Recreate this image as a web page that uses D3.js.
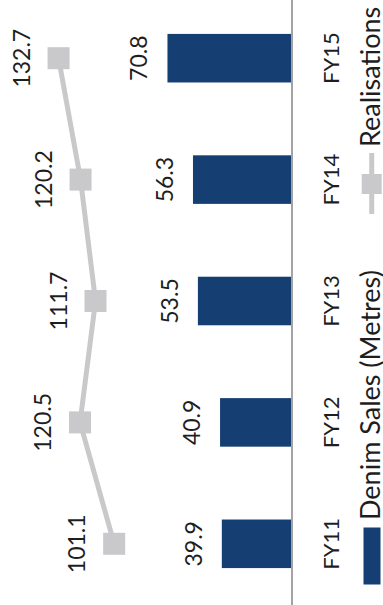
<!DOCTYPE html>
<html>
<head>
<meta charset="utf-8">
<script src="https://cdn.jsdelivr.net/npm/d3@7"></script>
<style>
  html, body { margin: 0; padding: 0; background: #fff; }
  svg { display: block; font-family: Lato, "Open Sans", sans-serif; }
</style>
</head>
<body>
<svg id="chart" width="383" height="605"></svg>
<script>
// Chart is drawn turned a quarter: categories run bottom -> top,
// values grow leftwards from the axis line.
const years       = ['FY11', 'FY12', 'FY13', 'FY14', 'FY15'];
const denimSales  = [39.9, 40.9, 53.5, 56.3, 70.8];
const realisation = [101.1, 120.5, 111.7, 120.2, 132.7];
const legendNames = ['Denim Sales (Metres)', 'Realisations'];

const BAR_COLOR  = '#153f73';
const LINE_COLOR = '#c9c9cb';
const TEXT_COLOR = '#1e1e1e';
const AXIS_X     = 292;

const svg = d3.select('#chart');

const y = d3.scaleBand().domain(years).range([604.5, -2.5])
  .paddingInner(0.6).paddingOuter(0.3);
const x = d3.scaleLinear().domain([0, 166]).range([AXIS_X, 0]);

const rows = years.map((yr, i) => ({ yr, sales: denimSales[i], real: realisation[i] }));

// ── Bars ──────────────────────────────────────────────────────────────────
svg.append('g').selectAll('rect').data(rows).join('rect')
  .attr('x', d => x(d.sales))
  .attr('y', d => y(d.yr))
  .attr('width', d => x(0) - x(d.sales))
  .attr('height', y.bandwidth())
  .attr('fill', BAR_COLOR);

// axis line
svg.append('line')
  .attr('x1', x(0)).attr('x2', x(0))
  .attr('y1', 0).attr('y2', 605)
  .attr('stroke', '#a3a3a6').attr('stroke-width', 2);

// rotated text helper: baseline at bx, centred on cy
function vText(g, bx, cy, txt, size, anchor) {
  return g.append('text')
    .attr('transform', `translate(${bx},${cy}) rotate(-90)`)
    .attr('text-anchor', anchor || 'middle')
    .attr('font-size', size)
    .attr('fill', TEXT_COLOR)
    .text(txt);
}

const mid = d => y(d.yr) + y.bandwidth() / 2;

// ── Line + markers ────────────────────────────────────────────────────────
const line = d3.line().x(d => x(d.real)).y(mid);
svg.append('path')
  .datum(rows)
  .attr('d', line)
  .attr('fill', 'none')
  .attr('stroke', LINE_COLOR)
  .attr('stroke-width', 5);

const MK = 22;
svg.append('g').selectAll('rect').data(rows).join('rect')
  .attr('x', d => x(d.real) - MK / 2)
  .attr('y', d => mid(d) - MK / 2)
  .attr('width', MK).attr('height', MK)
  .attr('fill', LINE_COLOR);

// ── Labels ────────────────────────────────────────────────────────────────
const lbl = svg.append('g');
rows.forEach(d => {
  vText(lbl, x(d.sales) - 20, mid(d), d.sales.toFixed(1), 23);
  vText(lbl, x(d.real) - 29, mid(d), d.real.toFixed(1), 23);
  vText(lbl, 338.5, mid(d), d.yr, 22);
});

// ── Legend ────────────────────────────────────────────────────────────────
const lg = svg.append('g');
lg.append('rect')
  .attr('x', 363.5).attr('y', 527.5)
  .attr('width', 17).attr('height', 57)
  .attr('fill', BAR_COLOR);
vText(lg, 379.5, 520, legendNames[0], 27, 'start');

lg.append('line')
  .attr('x1', 371.7).attr('x2', 371.7)
  .attr('y1', 153).attr('y2', 214)
  .attr('stroke', LINE_COLOR).attr('stroke-width', 5);
lg.append('rect')
  .attr('x', 361.7).attr('y', 174)
  .attr('width', 20).attr('height', 20)
  .attr('fill', LINE_COLOR);
vText(lg, 379.5, 147, legendNames[1], 27, 'start');
</script>
</body>
</html>
